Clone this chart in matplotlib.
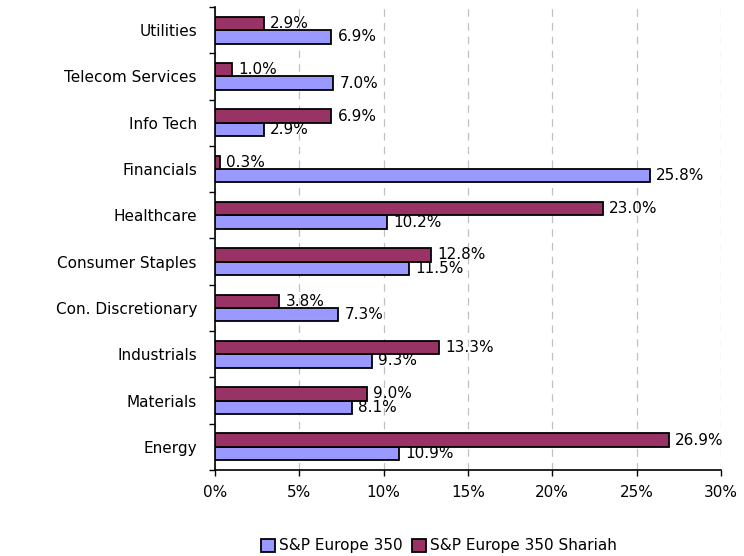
import numpy as np
import matplotlib.pyplot as plt
from matplotlib.ticker import FuncFormatter, MultipleLocator

plt.rcParams['font.family'] = ['DejaVu Sans']

# data (bottom to top)
sectors = ['Energy', 'Materials', 'Industrials', 'Con. Discretionary', 'Consumer Staples',
           'Healthcare', 'Financials', 'Info Tech', 'Telecom Services', 'Utilities']
europe350 = [10.9, 8.1, 9.3, 7.3, 11.5, 10.2, 25.8, 2.9, 7.0, 6.9]
shariah = [26.9, 9.0, 13.3, 3.8, 12.8, 23.0, 0.3, 6.9, 1.0, 2.9]

fig = plt.figure(figsize=(7.44, 5.56), dpi=100)
ax = fig.add_axes([0.289, 0.1547, 0.680, 0.8327])

y = np.arange(len(sectors))
h = 0.29
b1 = ax.barh(y - h / 2, europe350, height=h, color='#9999FF', edgecolor='black',
             linewidth=1.3, label='S&P Europe 350', zorder=3)
b2 = ax.barh(y + h / 2, shariah, height=h, color='#993366', edgecolor='black',
             linewidth=1.3, label='S&P Europe 350 Shariah', zorder=3)

for bars, vals in ((b1, europe350), (b2, shariah)):
    for bar, v in zip(bars, vals):
        ax.annotate(f'{v:.1f}%', (v, bar.get_y() + bar.get_height() / 2),
                    xytext=(4.5, 0), textcoords='offset points', va='center', ha='left',
                    fontsize=11, zorder=4)

ax.set_xlim(0, 30)
ax.set_ylim(-0.5, len(sectors) - 0.5)
ax.xaxis.set_major_locator(MultipleLocator(5))
ax.xaxis.set_major_formatter(FuncFormatter(lambda v, p: f'{v:.0f}%'))
ax.set_yticks(y)
ax.set_yticklabels(sectors)
ax.set_yticks(np.arange(-0.5, len(sectors), 1), minor=True)
ax.tick_params(axis='y', which='major', length=0, pad=13, labelsize=11)
ax.tick_params(axis='y', which='minor', length=4, width=1)
ax.tick_params(axis='x', length=4, width=1, labelsize=11, pad=7)
ax.grid(axis='x', color='#c0c0c0', linestyle=(0, (6, 5)), linewidth=0.9, zorder=0)

for s in ('top', 'right'):
    ax.spines[s].set_visible(False)
ax.spines['left'].set_linewidth(1.2)
ax.spines['bottom'].set_linewidth(1.2)

fig.legend(handles=[b1, b2], loc='center', bbox_to_anchor=(0.59, 0.018), ncol=2,
           frameon=False, fontsize=11, handlelength=0.9, handleheight=0.9,
           handletextpad=0.3, columnspacing=0.6)

fig.savefig('out.png', dpi=100)
